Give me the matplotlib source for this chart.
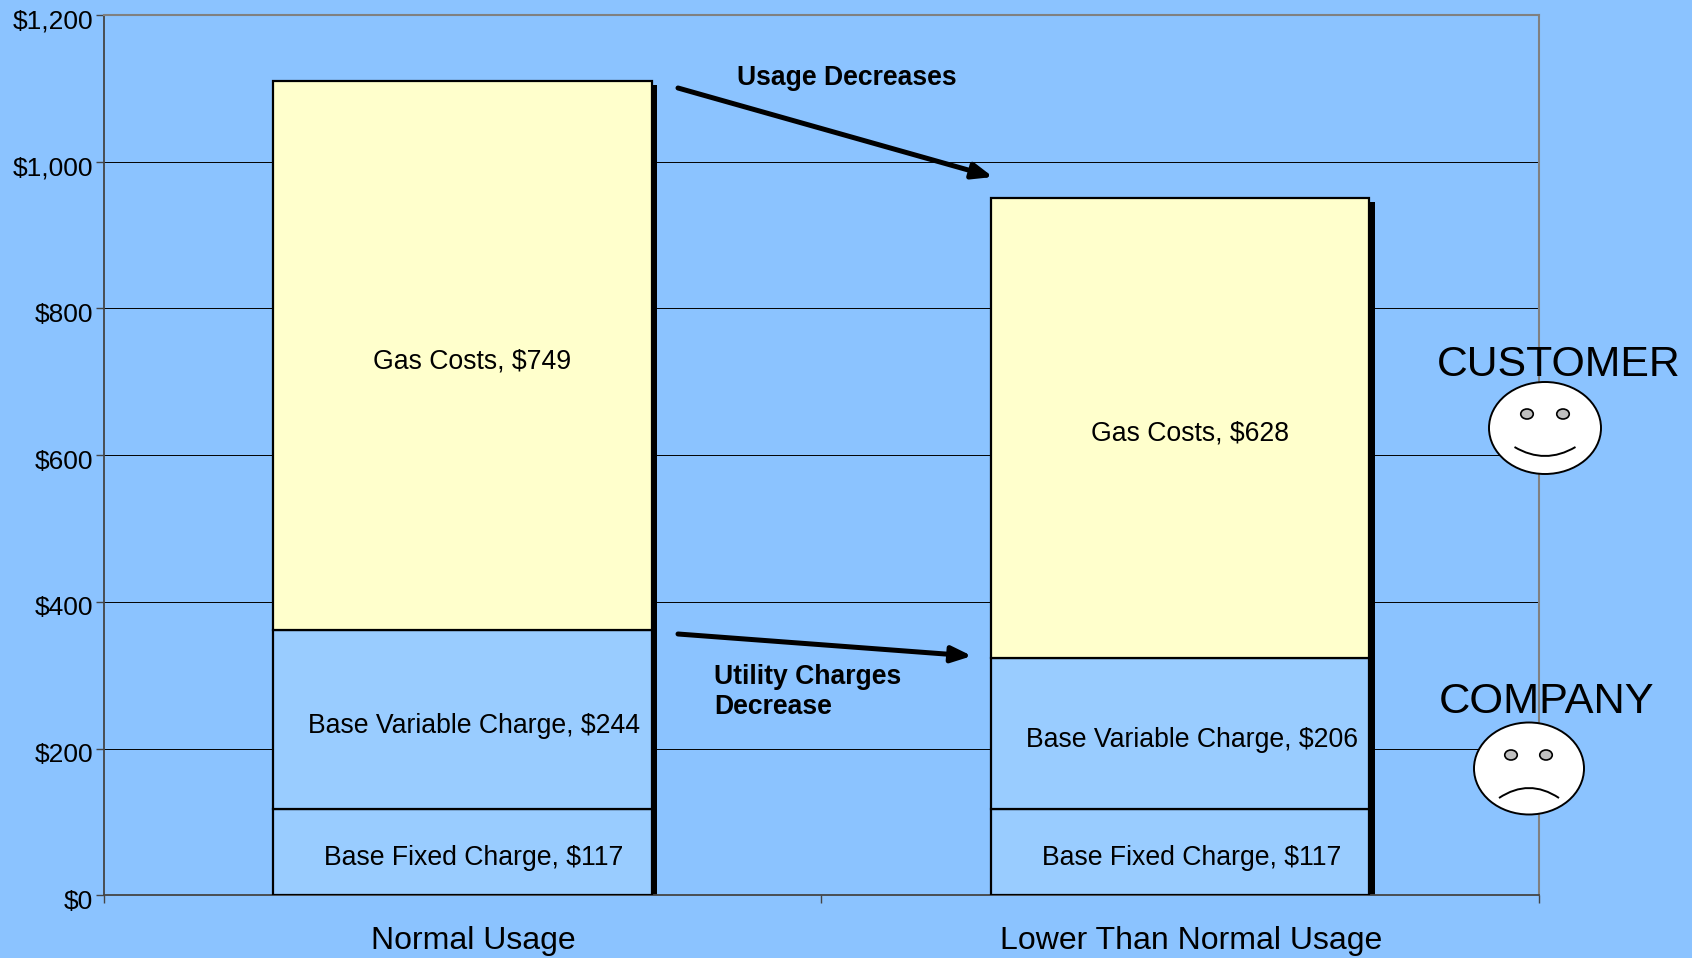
import numpy as np
import matplotlib
matplotlib.use('Agg')
import matplotlib.pyplot as plt
from matplotlib.patches import Ellipse, PathPatch
from matplotlib.path import Path
from matplotlib.transforms import ScaledTranslation

categories = ['Normal Usage', 'Lower Than Normal Usage']
series_names = ['Base Fixed Charge', 'Base Variable Charge', 'Gas Costs']
fixed = [117, 117]
variable = [244, 206]
gas = [749, 628]
y_ticks = [0, 200, 400, 600, 800, 1000, 1200]
y_labels = ['$0', '$200', '$400', '$600', '$800', '$1,000', '$1,200']

bg = '#8BC3FF'
plt.rcParams['font.family'] = ['Liberation Sans', 'DejaVu Sans']

W, H = 1692, 958
dpi = 100
fig = plt.figure(figsize=(W / dpi, H / dpi), dpi=dpi, facecolor=bg)
# plot area in pixels: x 103.5-1539, y 15-895.2
ax = fig.add_axes([103.5 / W, (H - 895.2) / H, (1539 - 103.5) / W, (895.2 - 15) / H])
ax.set_facecolor(bg)


def px_offset(dx, dy):
    return ScaledTranslation(dx / dpi, dy / dpi, fig.dpi_scale_trans)


pos = np.arange(len(categories)) + 0.5
bar_w = 0.527
fixed = np.array(fixed)
variable = np.array(variable)
gas = np.array(gas)

# shadow behind the stack
ax.bar(pos, fixed + variable + gas, width=bar_w, color='black', linewidth=0,
       transform=ax.transData + px_offset(5.5, -4), zorder=2)
ax.bar(pos, fixed, width=bar_w, color='#99CCFF', edgecolor='black', linewidth=1.6, zorder=3)
ax.bar(pos, variable, bottom=fixed, width=bar_w, color='#99CCFF', edgecolor='black', linewidth=1.6, zorder=3)
ax.bar(pos, gas, bottom=fixed + variable, width=bar_w, color='#FFFFCC', edgecolor='black', linewidth=1.6, zorder=3)

# data labels, sitting a little right of the bar centre
bottoms = [np.zeros(2), fixed, fixed + variable]
label_dx = [11.5, 11.5, 9.5]
for name, vals, bot, dx in zip(series_names, [fixed, variable, gas], bottoms, label_dx):
    for i in range(len(pos)):
        ax.text(pos[i], bot[i] + vals[i] / 2, f'{name}, ${vals[i]}', ha='center', va='center',
                fontsize=19.2, color='black', zorder=5,
                transform=ax.transData + px_offset(dx, -6))

ax.set_xlim(0, 2)
ax.set_ylim(0, 1200)
ax.set_yticks(y_ticks)
ax.set_yticklabels(y_labels, fontsize=19)
ax.yaxis.grid(True, color='black', linewidth=0.7, zorder=1)
ax.set_axisbelow(True)
ax.tick_params(axis='y', length=5.8, width=1, color='#444444', pad=1.5)
for lab in ax.get_yticklabels():
    lab.set_transform(lab.get_transform() + px_offset(0, -4))

ax.set_xticks([0, 1, 2])
ax.set_xticklabels([])
ax.tick_params(axis='x', which='major', length=5.8, width=1, color='#444444')
ax.set_xticks(pos, minor=True)
ax.set_xticklabels(categories, minor=True, fontsize=23)
ax.tick_params(axis='x', which='minor', length=0, pad=22.5)
for lab in ax.get_xticklabels(minor=True):
    lab.set_transform(lab.get_transform() + px_offset(10.5, 0))

ax.spines['left'].set_color('#444444')
ax.spines['bottom'].set_color('#444444')
ax.spines['left'].set_linewidth(1.3)
ax.spines['bottom'].set_linewidth(1.3)
ax.spines['top'].set_color('#808080')
ax.spines['right'].set_color('#808080')
ax.spines['top'].set_linewidth(1.5)
ax.spines['right'].set_linewidth(1.5)

# overlay in pixel coordinates for the drawn annotations
ov = fig.add_axes([0, 0, 1, 1], facecolor='none')
ov.set_xlim(0, W)
ov.set_ylim(H, 0)
ov.axis('off')

arrow = dict(arrowstyle='-|>,head_length=0.6,head_width=0.24', color='black', lw=3.6,
             shrinkA=0, shrinkB=0, mutation_scale=20)
ov.annotate('', xy=(993, 177), xytext=(678, 88), arrowprops=arrow)
ov.annotate('', xy=(972, 656), xytext=(678, 634), arrowprops=arrow)

ov.text(737, 77.5, 'Usage Decreases', fontsize=19.1, fontweight='bold', ha='left', va='center')
ov.text(714, 692, 'Utility Charges\nDecrease', fontsize=19.1, fontweight='bold', ha='left', va='center',
        linespacing=1.24)
ov.text(1559, 376, 'CUSTOMER', fontsize=30.8, ha='center', va='baseline')
ov.text(1547, 713, 'COMPANY', fontsize=31.2, ha='center', va='baseline')


def face(cx, cy, w, h, eye_dx, eye_y, mouth_dx, mouth_y, ctrl_y):
    ov.add_patch(Ellipse((cx, cy), w, h, facecolor='white', edgecolor='black', linewidth=1.4))
    for ex in eye_dx:
        ov.add_patch(Ellipse((cx + ex, eye_y), 12.5, 10, facecolor='#C0C0C0', edgecolor='black', linewidth=1.2))
    mouth = Path([(cx - mouth_dx, mouth_y), (cx, ctrl_y), (cx + mouth_dx, mouth_y)],
                 [Path.MOVETO, Path.CURVE3, Path.CURVE3])
    ov.add_patch(PathPatch(mouth, facecolor='none', edgecolor='black', linewidth=1.4))


face(1545, 428, 112, 92, [-18, 18], 414, 30.5, 447, 465)
face(1529, 768.5, 110, 92, [-18, 17], 755, 30, 798, 778)

fig.savefig('out.png', dpi=dpi, facecolor=bg)
